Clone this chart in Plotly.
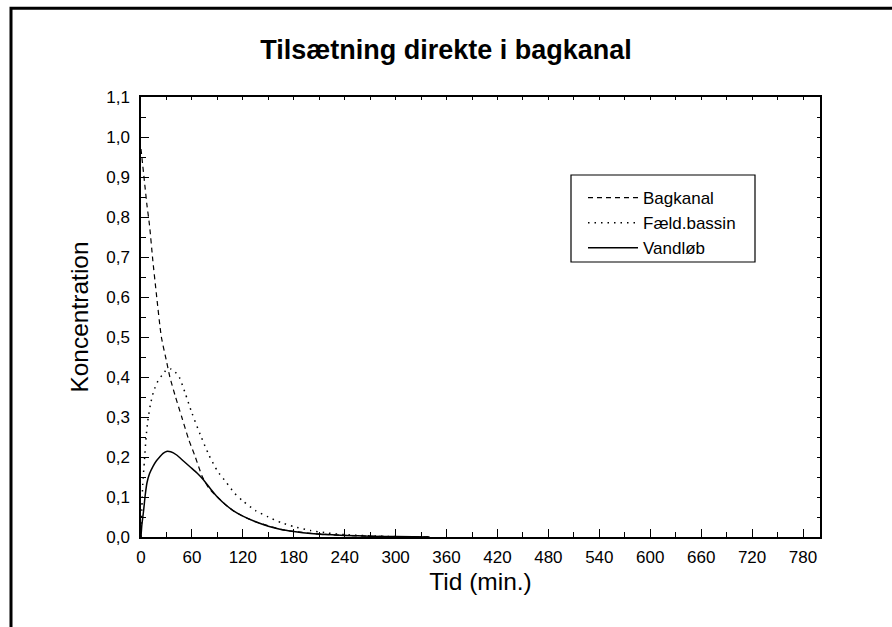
import plotly.graph_objects as go

# ---- data ----
t_bag = [0, 2, 4, 7, 10, 14, 18, 24, 30, 34, 40, 48, 56, 64, 72, 80, 90, 100, 110, 120,
         135, 150, 165, 180, 200, 220, 240, 270, 300, 340]
bagkanal = [0.97, 0.93, 0.89, 0.83, 0.78, 0.69, 0.61, 0.50, 0.44, 0.40, 0.355, 0.30, 0.245,
            0.20, 0.152, 0.122, 0.10, 0.08, 0.064, 0.052, 0.038, 0.028, 0.019, 0.014, 0.009,
            0.006, 0.004, 0.002, 0.001, 0.0]

t_faeld = [0, 1, 2, 4, 6, 8, 11, 15, 20, 25, 30, 35, 40, 45, 52, 60, 70, 80, 90, 100, 110,
           120, 135, 150, 165, 180, 200, 220, 240, 270, 300, 340]
faeld = [0.0, 0.07, 0.13, 0.19, 0.25, 0.29, 0.33, 0.365, 0.39, 0.405, 0.418, 0.42, 0.413,
         0.40, 0.36, 0.31, 0.255, 0.205, 0.165, 0.138, 0.11, 0.09, 0.066, 0.05, 0.036, 0.026,
         0.016, 0.01, 0.006, 0.003, 0.001, 0.0]

t_vand = [0, 1, 3, 5, 7, 10, 14, 18, 22, 26, 30, 35, 42, 50, 58, 66, 74, 82, 90, 100, 110,
          120, 135, 150, 165, 180, 200, 220, 240, 270, 300, 340]
vandlob = [0.0, 0.03, 0.065, 0.105, 0.135, 0.158, 0.176, 0.19, 0.2, 0.209, 0.214, 0.213,
           0.205, 0.19, 0.175, 0.16, 0.142, 0.12, 0.10, 0.08, 0.064, 0.052, 0.038, 0.027,
           0.019, 0.014, 0.009, 0.006, 0.004, 0.002, 0.001, 0.0]

x_tickvals = list(range(0, 781, 60))
x_ticktext = [str(v) for v in x_tickvals]
y_tickvals = [i / 10 for i in range(0, 12)]
y_ticktext = ["0,0", "0,1", "0,2", "0,3", "0,4", "0,5", "0,6", "0,7", "0,8", "0,9", "1,0", "1,1"]

FONT = "Liberation Sans, Arial, sans-serif"

# plot-area geometry in page pixels
PL, PR, PT, PB = 141, 820, 97, 537
W, H = 892, 627


def px_x(p):
    return (p - PL) / (PR - PL)


def px_y(p):
    return (PB - p) / (PB - PT)


fig = go.Figure()
fig.add_trace(go.Scatter(x=t_bag, y=bagkanal, mode="lines", name="Bagkanal",
                         line=dict(color="black", width=1.2, dash="5px,4px", shape="spline", smoothing=0.6)))
fig.add_trace(go.Scatter(x=t_faeld, y=faeld, mode="lines", name="Fæld.bassin",
                         line=dict(color="black", width=1.5, dash="1.5px,5px", shape="spline", smoothing=0.6)))
fig.add_trace(go.Scatter(x=t_vand, y=vandlob, mode="lines", name="Vandløb",
                         line=dict(color="black", width=1.5, shape="spline", smoothing=0.6)))
# dummy trace so mirrored tick axes are drawn
fig.add_trace(go.Scatter(x=[None], y=[None], xaxis="x2", yaxis="y2", showlegend=False,
                         hoverinfo="skip"))

axis_common = dict(showgrid=False, zeroline=False, linecolor="black", linewidth=1.5,
                   ticks="inside", tickcolor="black", tickwidth=1.2, ticklen=8,
                   tickfont=dict(family=FONT, size=17, color="black"))

fig.update_layout(
    width=W, height=H,
    margin=dict(l=PL, r=W - PR, t=PT, b=H - PB),
    paper_bgcolor="white", plot_bgcolor="white",
    font=dict(family=FONT, color="black"),
    title=dict(text="<b>Tilsætning direkte i bagkanal</b>", x=0.5, xref="container",
               y=1 - 50 / H, yref="container", yanchor="middle", xanchor="center",
               font=dict(family=FONT, size=27, color="black")),
    xaxis=dict(range=[0, 800], tickvals=x_tickvals, ticktext=x_ticktext,
               minor=dict(ticks="inside", ticklen=5, tickcolor="black", tickwidth=1.2, dtick=30, tick0=0),
               ticklabelstandoff=4,
               title=dict(text="Tid (min.)", font=dict(family=FONT, size=24.5, color="black"), standoff=7),
               **axis_common),
    yaxis=dict(range=[0, 1.1], tickvals=y_tickvals, ticktext=y_ticktext,
               minor=dict(ticks="inside", ticklen=5, tickcolor="black", tickwidth=1.2, dtick=0.05, tick0=0),
               ticklabelstandoff=6,
               title=dict(text="Koncentration", font=dict(family=FONT, size=24.5, color="black"), standoff=11),
               **axis_common),
    xaxis2=dict(overlaying="x", side="top", range=[0, 800], dtick=30, tick0=0, showticklabels=False,
                showgrid=False, zeroline=False, showline=True, linecolor="black", linewidth=1.5,
                ticks="inside", ticklen=3, tickcolor="black", tickwidth=1),
    yaxis2=dict(overlaying="y", side="right", range=[0, 1.1], dtick=0.05, tick0=0, showticklabels=False,
                showgrid=False, zeroline=False, showline=True, linecolor="black", linewidth=1.5,
                ticks="inside", ticklen=3, tickcolor="black", tickwidth=1),
    legend=dict(x=px_x(583), y=px_y(180), xanchor="left", yanchor="top",
                borderwidth=0, bgcolor="rgba(0,0,0,0)", itemwidth=50,
                font=dict(family=FONT, size=17, color="black"), tracegroupgap=0),
    showlegend=True,
    shapes=[
        dict(type="path", xref="paper", yref="paper", layer="above",
             path="M {x0} {y0} L {x0} {y1} L {x2} {y1}".format(
                 x0=px_x(11), y0=px_y(640), y1=px_y(8.3), x2=px_x(900)),
             line=dict(color="black", width=3)),
        dict(type="rect", xref="paper", yref="paper", layer="above",
             x0=px_x(571), x1=px_x(755), y0=px_y(262), y1=px_y(175),
             line=dict(color="black", width=1.2)),
    ],
)

fig.write_html("out.html", config={"displayModeBar": False},
               post_script=["document.body.style.margin='0px';"])
